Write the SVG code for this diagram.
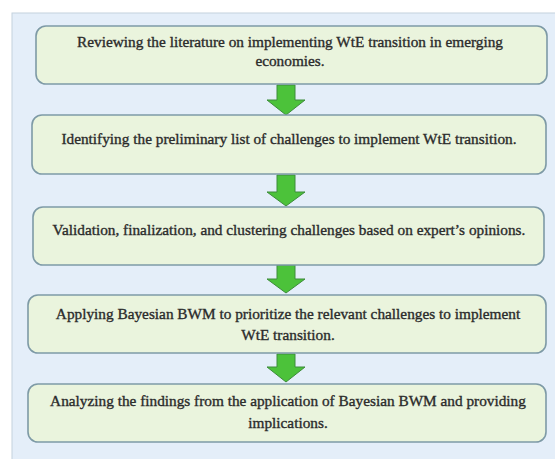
<svg xmlns="http://www.w3.org/2000/svg" width="555" height="459" viewBox="0 0 555 459">
<style>
.box{fill:#eaf4dd;stroke:#7e9aa6;stroke-width:1.6}
.t{font-family:"Liberation Serif","Times New Roman",serif;font-size:15.3px;fill:#2b2b2b;stroke:#2b2b2b;stroke-width:0.35;text-anchor:middle}
.arr{fill:#4cc23a;stroke:#3d8c3a;stroke-width:1;stroke-linejoin:miter}
</style>
<rect x="0" y="0" width="555" height="459" fill="#ffffff"/>
<rect x="12" y="13" width="560" height="460" fill="#e4eef9" stroke="#c3d2de" stroke-width="1"/>
<g id="connectors">
<path class="arr" d="M277,85 H295 V100 H305 L286,115 L267,100 H277 Z"/>
<path class="arr" d="M277,175 H295 V192 H305 L286,206 L267,192 H277 Z"/>
<path class="arr" d="M277,265 H295 V279 H305 L286,293 L267,279 H277 Z"/>
<path class="arr" d="M277,354 H295 V367 H305 L286,382 L267,367 H277 Z"/>
</g>
<g id="n1">
<rect class="box" x="36" y="26" width="511" height="58" rx="10"/>
<text class="t" x="290" y="47">Reviewing the literature on implementing WtE transition in emerging</text>
<text class="t" x="290" y="66">economies.</text>
</g>
<g id="n2">
<rect class="box" x="32" y="115" width="514" height="59" rx="10"/>
<text class="t" x="289" y="144">Identifying the preliminary list of challenges to implement WtE transition.</text>
</g>
<g id="n3">
<rect class="box" x="33" y="207" width="511" height="58" rx="10"/>
<text class="t" x="289" y="235">Validation, finalization, and clustering challenges based on expert’s opinions.</text>
</g>
<g id="n4">
<rect class="box" x="28" y="295" width="518" height="58" rx="10"/>
<text class="t" x="288" y="319">Applying Bayesian BWM to prioritize the relevant challenges to implement</text>
<text class="t" x="288" y="340">WtE transition.</text>
</g>
<g id="n5">
<rect class="box" x="28" y="384" width="518" height="58" rx="10"/>
<text class="t" x="288" y="406">Analyzing the findings from the application of Bayesian BWM and providing</text>
<text class="t" x="288" y="428">implications.</text>
</g>
</svg>
